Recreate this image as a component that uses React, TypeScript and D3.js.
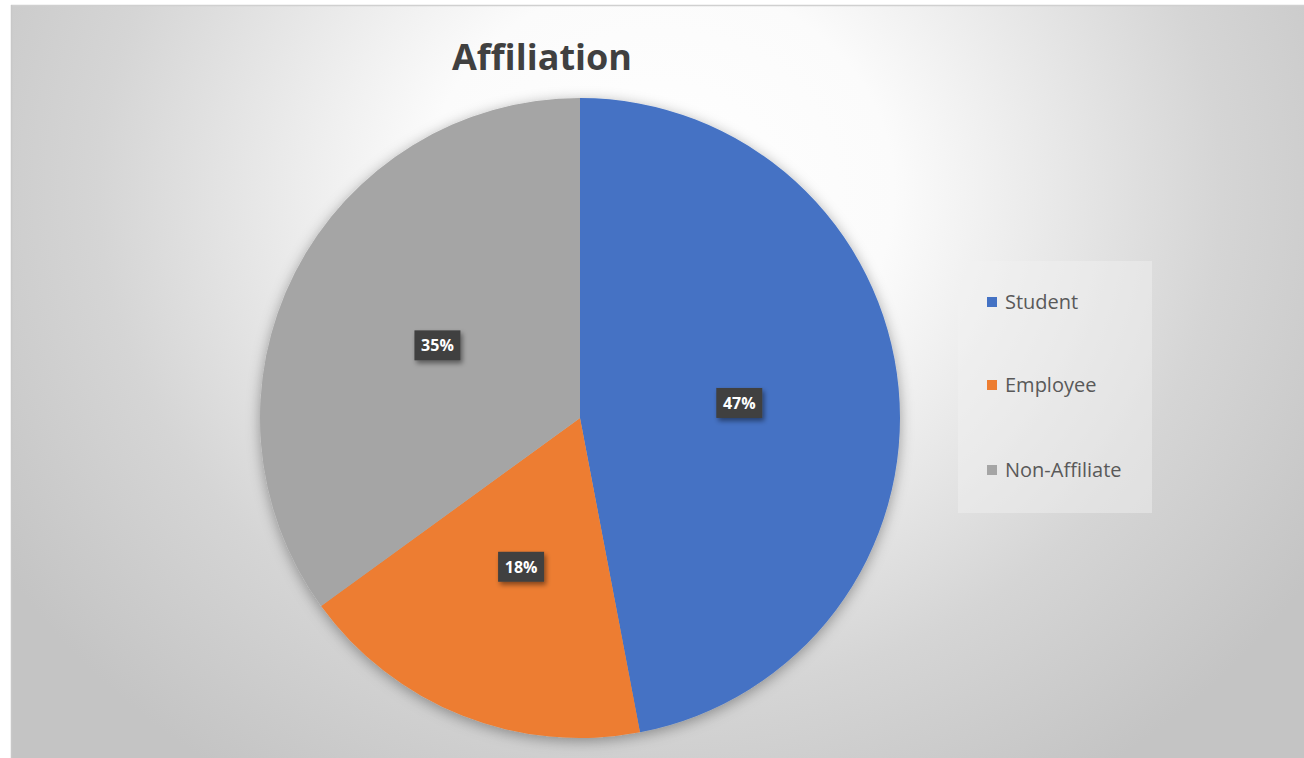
import React from "react";
import * as d3 from "d3";

const categories = ["Student", "Employee", "Non-Affiliate"];
const values = [47, 18, 35];
const colors = ["#4472C4", "#ED7D31", "#A5A5A5"];
const title = "Affiliation";

const W = 1304;
const H = 758;
const cx = 580;
const cy = 418;
const R = 320;

export default function App() {
  const pie = d3.pie<number>().sort(null).value((d) => d);
  const arcs = pie(values);
  const arcGen = d3.arc<d3.PieArcDatum<number>>().innerRadius(0).outerRadius(R);
  const labelArc = d3.arc<d3.PieArcDatum<number>>().innerRadius(R * 0.5).outerRadius(R * 0.5);
  const total = d3.sum(values);
  const fmt = d3.format(".0%");
  const font = "'Open Sans', 'Segoe UI', sans-serif";

  const legendX = 958;
  const legendY = 261;
  const legendW = 194;
  const legendH = 252;
  const legendRows = [302, 385, 470];

  return (
    <svg width={W} height={H} style={{ position: "absolute", left: 0, top: 0 }}>
      <defs>
        <radialGradient
          id="bg"
          gradientUnits="userSpaceOnUse"
          cx={660}
          cy={190}
          r={780}
          gradientTransform="translate(660,190) scale(1,0.9) translate(-660,-190)"
        >
          <stop offset="0" stopColor="#ffffff" />
          <stop offset="0.3" stopColor="#fbfbfb" />
          <stop offset="0.72" stopColor="#d5d5d5" />
          <stop offset="1" stopColor="#c4c4c4" />
        </radialGradient>
        <filter id="pieShadow" x="-20%" y="-20%" width="140%" height="140%">
          <feDropShadow dx="0" dy="3" stdDeviation="7" floodColor="#000" floodOpacity="0.35" />
        </filter>
        <filter id="boxShadow" x="-40%" y="-40%" width="180%" height="180%">
          <feDropShadow dx="2" dy="3" stdDeviation="2.5" floodColor="#000" floodOpacity="0.45" />
        </filter>
      </defs>
      <rect x={0} y={0} width={W} height={H} fill="#ffffff" />
      <rect x={11} y={5} width={W - 11} height={H - 5} fill="url(#bg)" />
      <line x1={11} x2={W} y1={5.5} y2={5.5} stroke="#d0d0d0" strokeWidth={1.5} />
      <line x1={11.5} x2={11.5} y1={5} y2={H} stroke="#c8c8c8" strokeWidth={1.5} />

      <text
        x={542}
        y={70}
        textAnchor="middle"
        fontFamily={font}
        fontWeight="bold"
        fontSize={36}
        fill="#404040"
      >
        {title}
      </text>

      <g transform={`translate(${cx},${cy})`}>
        <g filter="url(#pieShadow)">
          {arcs.map((a, i) => (
            <path key={i} d={arcGen(a) || ""} fill={colors[i]} />
          ))}
        </g>
        {arcs.map((a, i) => {
          const [lx, ly] = labelArc.centroid(a);
          const bw = 46;
          const bh = 30;
          return (
            <g key={"l" + i} transform={`translate(${lx},${ly})`}>
              <rect x={-bw / 2} y={-bh / 2} width={bw} height={bh} fill="#404040" filter="url(#boxShadow)" />
              <text
                x={0}
                y={0}
                dy="0.36em"
                textAnchor="middle"
                fontFamily={font}
                fontWeight="bold"
                fontSize={16}
                fill="#ffffff"
              >
                {fmt(values[i] / total)}
              </text>
            </g>
          );
        })}
      </g>

      <rect x={legendX} y={legendY} width={legendW} height={legendH} fill="#f2f2f2" fillOpacity={0.45} />
      {categories.map((c, i) => (
        <g key={c}>
          <rect x={987} y={legendRows[i] - 5} width={10} height={10} fill={colors[i]} />
          <text
            x={1005}
            y={legendRows[i]}
            dy="0.35em"
            fontFamily={font}
            fontSize={20}
            fill="#595959"
          >
            {c}
          </text>
        </g>
      ))}
    </svg>
  );
}
